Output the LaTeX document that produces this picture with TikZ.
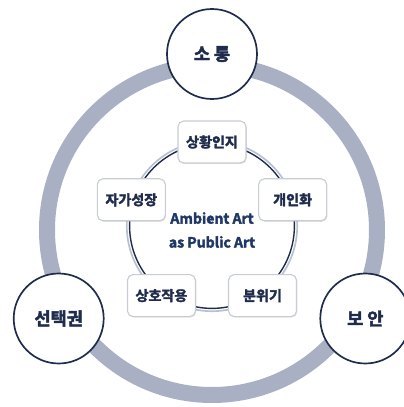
\documentclass[tikz,border=0pt]{standalone}
\usepackage{fontspec}
\setmainfont{Noto Sans CJK KR}[BoldFont={* Bold}, BoldFeatures={FakeBold=2.5}]
\usetikzlibrary{calc,shadows}

\definecolor{ringgray}{RGB}{170,176,196}
\definecolor{navy}{RGB}{31,44,76}
\definecolor{paleline}{RGB}{185,192,208}
\definecolor{boxline}{RGB}{200,204,214}
\definecolor{artblue}{RGB}{30,55,100}

\tikzset{
  value/.style={circle, draw=navy, line width=1.2pt, fill=white, minimum size=2.25cm, font=\fontsize{12.5}{14}\selectfont\bfseries, text=navy},
  factor/.style={rounded corners=4pt, draw=boxline, line width=0.8pt, fill=white, minimum width=1.7cm, minimum height=1.05cm, font=\fontsize{10}{11}\selectfont\bfseries, text=navy, drop shadow={opacity=0.2, shadow xshift=0.6pt, shadow yshift=-0.8pt}}
}

\begin{document}
\begin{tikzpicture}

\useasboundingbox (-5.3,-4.425) rectangle (4.8,5.75);

\coordinate (o) at (0,0);

\coordinate (m) at ($(o) + (0,0.1)$);

\draw[ringgray, line width=0.4cm] (o) circle (4.125);

\draw[paleline, line width=1.2pt] (m) circle (2.13);
\draw[navy, line width=1pt] (m) circle (2.06);

\node[align=center, text=artblue, font=\fontsize{10}{17}\selectfont\bfseries] (core) at (o) {Ambient Art\\as Public Art};

\node[value] (comm) at ($(o) + (90:4.4)$) {소 통};

\node[value] (choice) at ($(o) + (210:4.425)$) {선택권};

\node[value] (secure) at ($(o) + (330:4.425)$) {보 안};

\node[factor] (aware) at ($(m) + (90:2.1)$) {상황인지};

\node[factor] (personal) at ($(m) + (18:2.12)$) {개인화};

\node[factor] (mood) at ($(m) + (-54:2.15)$) {분위기};

\node[factor] (interact) at ($(m) + (234:2.15)$) {상호작용};

\node[factor] (growth) at ($(m) + (162:2.12)$) {자가성장};

\end{tikzpicture}
\end{document}
